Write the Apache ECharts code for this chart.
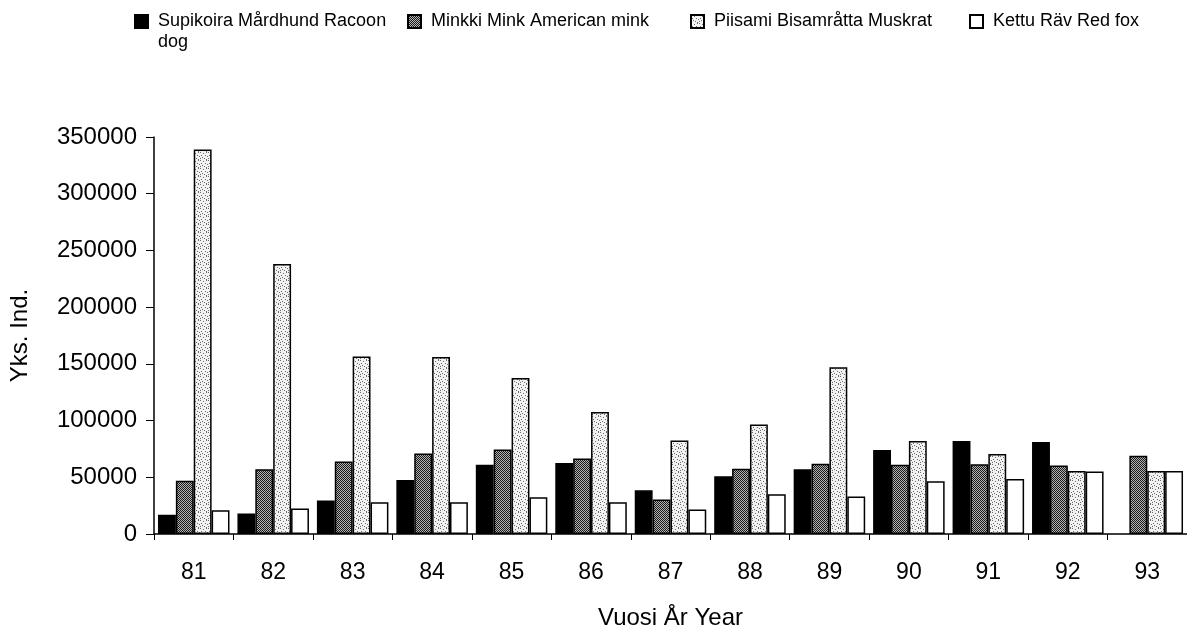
<!DOCTYPE html>
<html>
<head>
<meta charset="utf-8">
<script src="https://cdn.jsdelivr.net/npm/echarts@6/dist/echarts.min.js"></script>
<style>
html,body{margin:0;padding:0;background:#fff;}
#chart{width:1187px;height:635px;}
</style>
</head>
<body>
<div id="chart"></div>
<script>
// ---- data ----
const years = ['81','82','83','84','85','86','87','88','89','90','91','92','93'];
const seriesNames = ['Supikoira Mårdhund Racoon dog','Minkki Mink American mink','Piisami Bisamråtta Muskrat','Kettu Räv Red fox'];
const racoonDog = [17000, 18000, 29500, 47500, 61000, 62500, 38500, 51000, 57000, 74000, 82000, 81000, null];
const mink      = [47000, 57000, 64000, 71000, 74500, 66500, 30500, 57500, 62000, 61000, 61500, 60500, 69000];
const muskrat   = [339000, 238000, 156500, 156000, 137500, 107500, 82500, 96500, 147000, 82000, 70500, 55500, 55500];
const redFox    = [21000, 22500, 28000, 28000, 32500, 28000, 21500, 35000, 33000, 46500, 48500, 55000, 55500];
const yTicks = {min: 0, max: 350000, interval: 50000};

// ---- fill patterns ----
function makePattern(base, dots, dotColor, size) {
  const c = document.createElement('canvas');
  c.width = size; c.height = size;
  const g = c.getContext('2d');
  g.fillStyle = base; g.fillRect(0, 0, size, size);
  g.fillStyle = dotColor;
  dots.forEach(d => g.fillRect(d[0], d[1], 1, 1));
  return {image: c, repeat: 'repeat'};
}
const minkFill = makePattern('#b4b4b4', [[0,0],[2,0],[1,1],[3,1],[0,2],[2,2],[1,3],[3,3]], '#1a1a1a', 4);
const muskratFill = makePattern('#f2f2f2',
  [[0,0],[3,1],[6,0],[1,3],[5,3],[2,5],[7,4],[4,6],[0,6],[6,7]], '#6e6e6e', 8);

const fills = ['#000000', minkFill, muskratFill, '#ffffff'];
const values = [racoonDog, mink, muskrat, redFox];

const FONT = '"Liberation Sans", Arial, Helvetica, sans-serif';

const chart = echarts.init(document.getElementById('chart'), null, {renderer: 'canvas'});

const legendLefts = [134, 407, 690, 969];
const legends = seriesNames.map((n, i) => {
  const l = {
    data: [n],
    left: legendLefts[i],
    padding: 0,
    itemWidth: 13,
    itemHeight: 13,
    icon: 'rect',
    selectedMode: false,
    textStyle: {fontFamily: FONT, fontSize: 18, color: '#000', lineHeight: 21, padding: [0, 0, 0, 5]}
  };
  if (i === 0) {
    l.bottom = 635 - 53;
    l.formatter = name => '\n' + name.replace(/ (\S+)$/, '\n$1');
  } else {
    l.top = 11;
  }
  return l;
});

const option = {
  backgroundColor: '#fff',
  animation: false,
  legend: legends,
  grid: {left: 153, right: -6, top: 137, bottom: 100, containLabel: false},
  xAxis: {
    type: 'category',
    data: years,
    name: 'Vuosi År Year',
    nameLocation: 'middle',
    nameGap: 72,
    nameTextStyle: {fontFamily: FONT, fontSize: 24, color: '#000'},
    axisLine: {show: true, lineStyle: {color: '#000', width: 1.5}},
    axisTick: {show: true, length: 6, lineStyle: {color: '#000', width: 1}},
    axisLabel: {fontFamily: FONT, fontSize: 23, color: '#000', margin: 27},
    splitLine: {show: false}
  },
  yAxis: {
    type: 'value',
    min: yTicks.min, max: yTicks.max, interval: yTicks.interval,
    name: 'Yks. Ind.',
    nameLocation: 'middle',
    nameGap: 122,
    nameRotate: 90,
    nameTextStyle: {fontFamily: FONT, fontSize: 24, color: '#000'},
    axisLine: {show: true, lineStyle: {color: '#000', width: 1.5}},
    axisTick: {show: true, length: 8, lineStyle: {color: '#000', width: 1}},
    axisLabel: {fontFamily: FONT, fontSize: 24, color: '#000', margin: 17, formatter: v => String(v)},
    splitLine: {show: false}
  },
  series: seriesNames.map((n, i) => ({
    name: n,
    type: 'bar',
    data: values[i],
    barGap: '0%',
    barCategoryGap: '10%',
    itemStyle: {color: fills[i], borderColor: '#000', borderWidth: 1.5},
    emphasis: {disabled: true}
  }))
};
chart.setOption(option);
</script>
</body>
</html>
